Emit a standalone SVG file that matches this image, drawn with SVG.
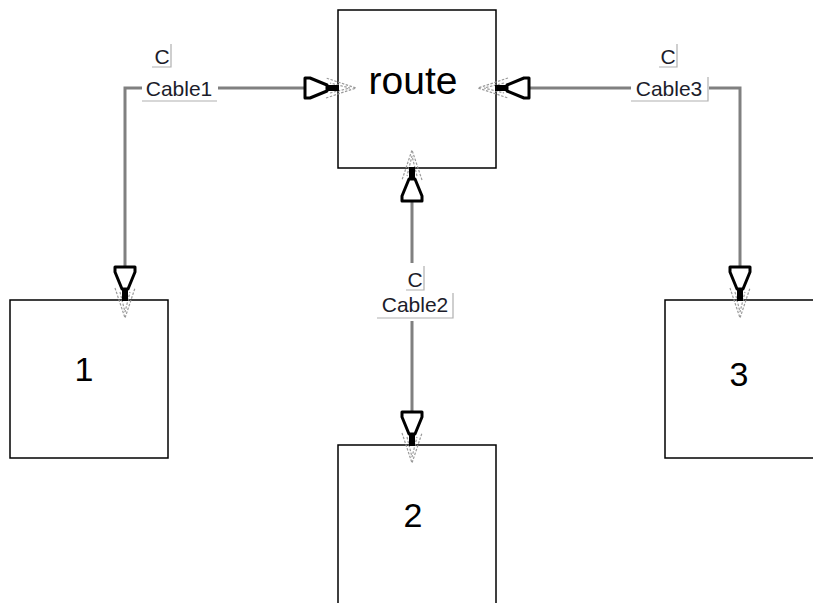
<svg xmlns="http://www.w3.org/2000/svg" width="813" height="603" viewBox="0 0 813 603">
<style>
.box{fill:#fff;stroke:#000;stroke-width:1.5}
.wire{fill:none;stroke:#808080;stroke-width:3}
.lbl{font-family:"Liberation Sans",Arial,sans-serif;font-size:21px;fill:#1c1c2a;text-anchor:middle}
.big{font-family:"Liberation Sans",Arial,sans-serif;fill:#000;text-anchor:middle}
.frame{fill:none;stroke:#b0b0b0;stroke-width:1.2}
.bg{fill:#fff}
</style>
<defs>
<g id="arr">
<path d="M-10,-12 L0,18 L10,-12 M-5,-8 L0,12 L5,-8" fill="none" stroke="#999" stroke-width="1.2" stroke-dasharray="2.5,1.5"/>
<path d="M-10,-33 H10 V-28 L3,-11 H-3 L-10,-28 Z" fill="#fff" stroke="#000" stroke-width="3" stroke-linejoin="round"/>
<rect x="-3" y="-12" width="6" height="13" fill="#000"/>
</g>
</defs>
<rect width="813" height="603" fill="#fff"/>
<g id="node-route"><rect class="box" x="338" y="10" width="158" height="158"/><text class="big" x="413" y="94" font-size="39">route</text></g>
<g id="node-1"><rect class="box" x="10" y="300" width="158" height="158"/><text class="big" x="84" y="381" font-size="34">1</text></g>
<g id="node-2"><rect class="box" x="338" y="445" width="158" height="170"/><text class="big" x="413" y="527" font-size="34">2</text></g>
<g id="node-3"><rect class="box" x="665" y="300" width="170" height="158"/><text class="big" x="739" y="386" font-size="34">3</text></g>
<g id="connectors">
<g id="cable1">
<path class="wire" d="M125,300 V88 H338"/>
<rect class="bg" x="142" y="76" width="76" height="24"/>
<text class="lbl" x="162" y="64">C</text>
<path class="frame" d="M152,67 H171 V44"/>
<text class="lbl" x="179" y="96">Cable1</text>
<path class="frame" d="M142,101 H217"/>
<use href="#arr" transform="translate(338,88) rotate(-90)"/>
<use href="#arr" transform="translate(125,300)"/>
</g>
<g id="cable2">
<path class="wire" d="M412,168 V445"/>
<rect class="bg" x="375" y="263" width="80" height="58"/>
<text class="lbl" x="415" y="287">C</text>
<path class="frame" d="M406,290 H424 V266"/>
<text class="lbl" x="415" y="312">Cable2</text>
<path class="frame" d="M377,318 H453 V293"/>
<use href="#arr" transform="translate(412,168) rotate(180)"/>
<use href="#arr" transform="translate(412,445)"/>
</g>
<g id="cable3">
<path class="wire" d="M496,88 H740 V300"/>
<rect class="bg" x="631" y="76" width="78" height="24"/>
<text class="lbl" x="668" y="64">C</text>
<path class="frame" d="M659,67 H677 V44"/>
<text class="lbl" x="669" y="96">Cable3</text>
<path class="frame" d="M631,101 H708 V77"/>
<use href="#arr" transform="translate(496,88) rotate(90)"/>
<use href="#arr" transform="translate(740,300)"/>
</g>
</g>
</svg>
